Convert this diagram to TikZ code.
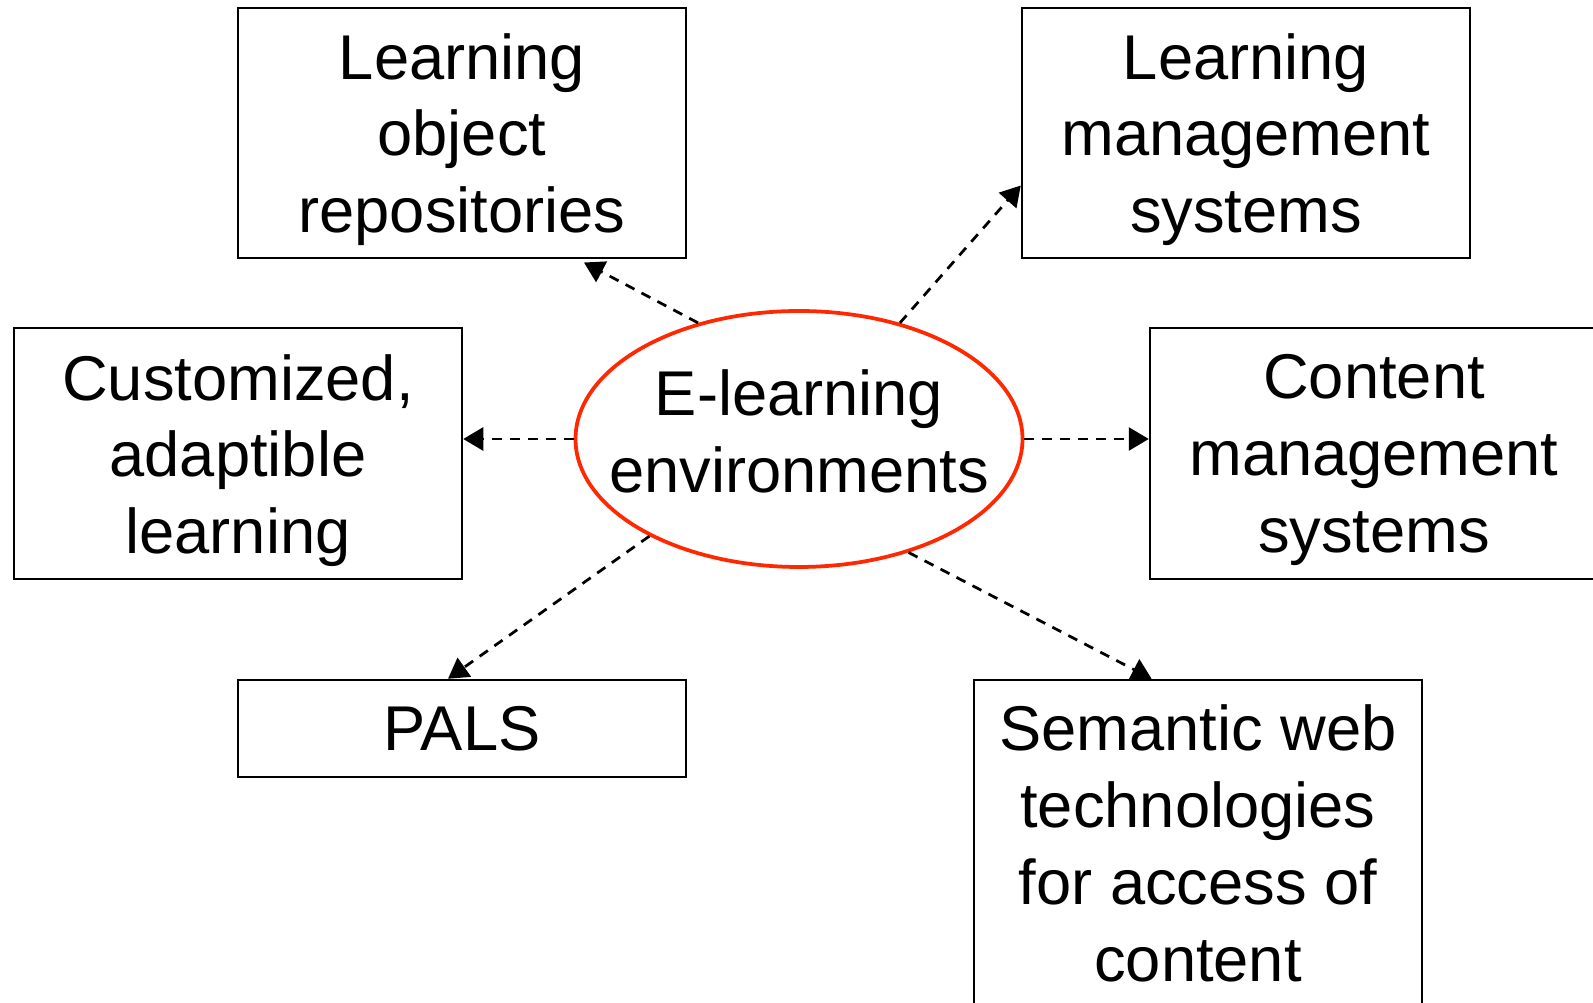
\documentclass[tikz,border=0pt]{standalone}
\usepackage{fontspec}
\setmainfont{Liberation Sans}
\usetikzlibrary{shapes.geometric, arrows.meta, calc}
\definecolor{hubred}{RGB}{255,40,0}

\begin{document}
\begin{tikzpicture}[
	box/.style={draw=black, line width=0.5mm, minimum width=8.96cm, inner sep=0pt},
	boxtext/.style={align=center, inner sep=0pt, font=\fontsize{36}{43.7}\selectfont, yshift=-0.13cm},
	hub/.style={ellipse, draw=hubred, line width=0.75mm, minimum width=8.94cm, minimum height=5.12cm, inner sep=0pt},
	link/.style={black, line width=0.55mm, dash pattern=on 2mm off 1.6mm, -{Triangle[length=4mm, width=4.6mm]}}
	]
	\clip (0,0) rectangle (31.86,20.06);

	% centre
	\node[hub] (env) at (15.98,11.28) {};
	\node[boxtext, yshift=0.29cm] (envtext) at (env) {E-learning\\environments};

	% surrounding topics
	\node[box, minimum height=5cm] (lor) at (9.24,17.40) {};
	\node[boxtext] (lortext) at (lor) {Learning\\object\\repositories};
	\node[box, minimum height=5cm] (lms) at (24.92,17.40) {};
	\node[boxtext] (lmstext) at (lms) {Learning\\management\\systems};
	\node[box, minimum height=5.02cm] (cust) at (4.76,10.99) {};
	\node[boxtext, yshift=-0.01cm] (custtext) at (cust) {Customized,\\adaptible\\learning};
	\node[box, minimum height=5.02cm] (cms) at (27.48,10.99) {};
	\node[boxtext] (cmstext) at (cms) {Content\\management\\systems};
	\node[box, minimum height=1.94cm] (pals) at (9.24,5.49) {};
	\node[boxtext, yshift=0.13cm] (palstext) at (pals) {PALS};
	\node[box, minimum height=6.64cm] (sem) at (23.96,3.14) {};
	\node[boxtext, yshift=0.18cm] (semtext) at (sem) {Semantic web\\technologies\\for access of\\content};

	% dashed links out of the centre
	\draw[link, shorten >=1.4mm] (env.131.2) -- ($(lor.south west)!0.757!(lor.south east)$);
	\draw[link] (env.49.4) -- ($(lms.north west)!0.708!(lms.south west)$);
	\draw[link] (env.west) -- (env.west -| cust.east);
	\draw[link] (env.east) -- (env.east -| cms.west);
	\draw[link] (env.213.9) -- ($(pals.north west)!0.469!(pals.north east)$);
	\draw[link] (env.314.5) -- ($(sem.north west)!0.397!(sem.north east)$);
\end{tikzpicture}
\end{document}
